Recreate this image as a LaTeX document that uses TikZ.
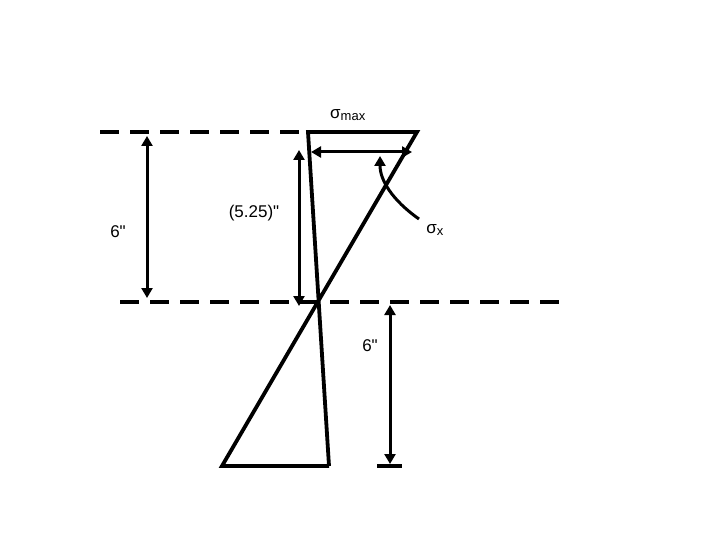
\documentclass[tikz,border=0pt]{standalone}
\usepackage{fontspec}
\setmainfont{Liberation Sans}[Ligatures=TeXOff]
\usetikzlibrary{arrows.meta}
\begin{document}
\begin{tikzpicture}[x=1pt,y=-1pt,
  thick line/.style={line width=3.8pt},
  dim/.style={line width=3pt,{Triangle[length=10pt,width=11pt]}-{Triangle[length=10pt,width=11pt]}},
  dashline/.style={line width=3.8pt,dash pattern=on 19pt off 11pt},
  lab/.style={font=\fontsize{17}{19}\selectfont,inner sep=0pt}]
\useasboundingbox (0,0) rectangle (720,540);
\coordinate (dl1) at (100,132); \coordinate (dr1) at (308,132);
\coordinate (dl2) at (120,302); \coordinate (dr2) at (560,302);
\draw[dashline] (dl1) -- (dr1);
\draw[dashline] (dl2) -- (dr2);
\coordinate (A) at (308,132); \coordinate (B) at (417,132);
\coordinate (C) at (222,466); \coordinate (D) at (329,466);
\draw[thick line,line join=miter] (D) -- (A) -- (B) -- (C) -- (D);
\coordinate (l1) at (147,136); \coordinate (l2) at (147,298);
\draw[dim] (l1) -- (l2);
\coordinate (m1) at (299,150); \coordinate (m2) at (299,306);
\draw[dim] (m1) -- (m2);
\coordinate (h1) at (311,152); \coordinate (h2) at (412,152);
\draw[dim] (h1) -- (h2);
\coordinate (r1) at (390,305); \coordinate (r2) at (390,464);
\draw[dim] (r1) -- (r2);
\coordinate (b1) at (377,466); \coordinate (b2) at (402,466);
\draw[thick line] (b1) -- (b2);
\coordinate (s1) at (419,219); \coordinate (s2) at (380,156);
\draw[line width=3pt,-{Triangle[length=10pt,width=11pt]}] (s1) .. controls (392,200) and (380,180) .. (s2);
\node[lab] (smax) at (348,115) {σ\textsubscript{\fontsize{13}{14}\selectfont max}};
\node[lab] (sx) at (435,230) {σ\textsubscript{\fontsize{13}{14}\selectfont x}};
\node[lab] (t525) at (254,213) {(5.25)"};
\node[lab] (t6a) at (118,232) {6"};
\node[lab] (t6b) at (370,346) {6"};
\end{tikzpicture}
\end{document}
